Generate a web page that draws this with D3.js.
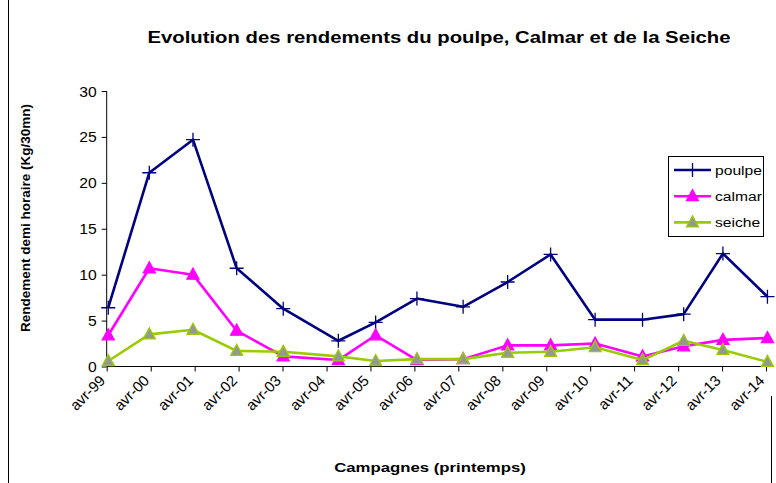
<!DOCTYPE html>
<html>
<head>
<meta charset="utf-8">
<script src="https://cdn.jsdelivr.net/npm/d3@7/dist/d3.min.js"></script>
<style>
  html, body { margin: 0; padding: 0; background: #ffffff; }
  svg { display: block; font-family: "Liberation Sans", Arial, sans-serif; }
</style>
</head>
<body>
<svg id="chart" width="776" height="483"></svg>
<script>
// ---- data ----
const campaignDates = ["1999-04-14","2000-03-20","2001-03-18","2002-03-16","2003-04-07","2004-07-08","2005-05-14","2006-04-22","2007-05-11","2008-05-15","2009-05-07","2010-05-12","2011-06-10","2012-05-17","2013-04-08","2014-04-13"];
const poulpe = [6.4, 21.1, 24.7, 10.7, 6.3, 2.8, 4.8, 7.4, 6.5, 9.2, 12.2, 5.1, 5.1, 5.7, 12.3, 7.6];
const calmar = [3.4, 10.7, 10.0, 3.9, 1.1, 0.7, 3.4, 0.7, 0.8, 2.3, 2.3, 2.5, 1.1, 2.2, 2.9, 3.1];
const seiche = [0.6, 3.5, 4.0, 1.7, 1.6, 1.1, 0.6, 0.8, 0.8, 1.5, 1.6, 2.1, 0.7, 2.8, 1.8, 0.5];
const seriesNames = ["poulpe", "calmar", "seiche"];
const tickYears = [1999,2000,2001,2002,2003,2004,2005,2006,2007,2008,2009,2010,2011,2012,2013,2014];
const xTickLabels = ["avr-99","avr-00","avr-01","avr-02","avr-03","avr-04","avr-05","avr-06","avr-07","avr-08","avr-09","avr-10","avr-11","avr-12","avr-13","avr-14"];
const yTicks = [0, 5, 10, 15, 20, 25, 30];
const titleText = "Evolution des rendements du poulpe, Calmar et de la Seiche";
const yTitle = "Rendement demi horaire (Kg/30mn)";
const xTitle = "Campagnes (printemps)";

// ---- setup ----
const svg = d3.select("#chart");
const parse = d3.timeParse("%Y-%m-%d");
const dates = campaignDates.map(parse);
const tickDates = tickYears.map(y => new Date(y, 3, 1));

const plot = { left: 106.7, right: 766, top: 91, bottom: 366.5 };
const x = d3.scaleTime().domain([tickDates[0], tickDates[tickDates.length - 1]]).range([plot.left, plot.right]);
const y = d3.scaleLinear().domain([0, 30]).range([plot.bottom, plot.top]);
const axisEnd = x(new Date(2014, 4, 22));

function stretch(sel, s) {
  sel.each(function () {
    const l = this.getComputedTextLength();
    this.setAttribute("textLength", l * s);
    this.setAttribute("lengthAdjust", "spacingAndGlyphs");
  });
}

// frame pieces
svg.append("line").attr("x1", 8.5).attr("x2", 8.5).attr("y1", 0).attr("y2", 483).attr("stroke", "#000").attr("stroke-width", 1);
svg.append("line").attr("x1", 771.5).attr("x2", 771.5).attr("y1", 396).attr("y2", 483).attr("stroke", "#000").attr("stroke-width", 1);

// title
const t = svg.append("text").attr("x", 439).attr("y", 43).attr("text-anchor", "middle")
  .attr("font-size", 16.5).attr("font-weight", "bold").attr("fill", "#000").text(titleText);
stretch(t, 1.23);

// y axis
const yAxis = svg.append("g").attr("transform", `translate(${plot.left},0)`)
  .call(d3.axisLeft(y).tickValues(yTicks).tickSize(5).tickPadding(5).tickFormat(d3.format("d")));
yAxis.select(".domain").attr("stroke", "#000").attr("d", `M0,${plot.top}V${plot.bottom}`);
yAxis.selectAll(".tick line").attr("stroke", "#000");
yAxis.selectAll(".tick text").attr("font-size", 14).attr("font-family", "Liberation Sans, Arial, sans-serif").attr("fill", "#000").attr("dy", "0.36em");
stretch(yAxis.selectAll(".tick text"), 1.12);

// x axis
const xAxis = svg.append("g").attr("transform", `translate(0,${plot.bottom})`)
  .call(d3.axisBottom(x).tickValues(tickDates).tickSize(5).tickFormat((d, i) => xTickLabels[i]));
xAxis.select(".domain").attr("stroke", "#000").attr("d", `M${plot.left},0H${axisEnd}`);
xAxis.selectAll(".tick line").attr("stroke", "#000");
xAxis.selectAll(".tick text")
  .attr("font-size", 15).attr("font-family", "Liberation Sans, Arial, sans-serif").attr("fill", "#000")
  .attr("text-anchor", "end").attr("y", 0).attr("dy", 0)
  .attr("transform", "translate(-1,15) rotate(-45)");

// axis titles
svg.append("text").attr("transform", "translate(30,218) rotate(-90)").attr("text-anchor", "middle")
  .attr("font-size", 13.5).attr("font-weight", "bold").attr("fill", "#000").text(yTitle);
const xt = svg.append("text").attr("x", 430).attr("y", 472).attr("text-anchor", "middle")
  .attr("font-size", 13.5).attr("font-weight", "bold").attr("fill", "#000").text(xTitle);
stretch(xt, 1.24);

// ---- series ----
const series = [
  { name: seriesNames[0], values: poulpe, line: "#000080", marker: "plus", fill: "none", mstroke: "#000080" },
  { name: seriesNames[1], values: calmar, line: "#FF00FF", marker: "tri", fill: "#FF00FF", mstroke: "#FF00FF" },
  { name: seriesNames[2], values: seiche, line: "#99CC00", marker: "tri", fill: "#969696", mstroke: "#99CC00" }
];

const lineGen = d3.line().x(d => x(d.date)).y(d => y(d.v));
const triPath = "M0,-6.5L6,4.5L-6,4.5Z";
const plusPath = "M-7,0H7M0,-7V7";

function drawMarker(g, s, cx, cy) {
  if (s.marker === "plus") {
    g.append("path").attr("d", plusPath).attr("transform", `translate(${cx},${cy})`)
      .attr("stroke", s.mstroke).attr("stroke-width", 1.3).attr("fill", "none");
  } else {
    g.append("path").attr("d", triPath).attr("transform", `translate(${cx},${cy})`)
      .attr("fill", s.fill).attr("stroke", s.mstroke).attr("stroke-width", 1.3);
  }
}

series.forEach(s => {
  const pts = s.values.map((v, i) => ({ date: dates[i], v }));
  const g = svg.append("g");
  g.append("path").datum(pts).attr("d", lineGen).attr("fill", "none")
    .attr("stroke", s.line).attr("stroke-width", 2.6).attr("stroke-linejoin", "round");
  pts.forEach(p => drawMarker(g, s, x(p.date), y(p.v)));
});

// ---- legend ----
const lg = svg.append("g");
lg.append("rect").attr("x", 668.5).attr("y", 156.5).attr("width", 95).attr("height", 80)
  .attr("fill", "#fff").attr("stroke", "#000").attr("stroke-width", 1);
series.forEach((s, i) => {
  const ly = 170 + i * 26.2;
  lg.append("line").attr("x1", 674).attr("x2", 711).attr("y1", ly).attr("y2", ly)
    .attr("stroke", s.line).attr("stroke-width", 2.6);
  drawMarker(lg, s, 692.5, ly);
  const tx = lg.append("text").attr("x", 715).attr("y", ly).attr("dy", "0.36em")
    .attr("font-size", 12.5).attr("fill", "#000").text(s.name);
  stretch(tx, 1.25);
});
</script>
</body>
</html>
